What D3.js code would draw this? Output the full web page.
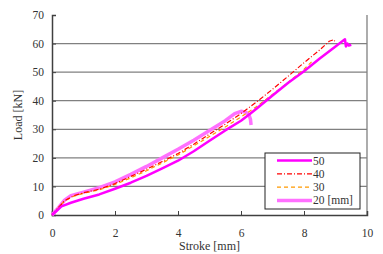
<!DOCTYPE html>
<html>
<head>
<meta charset="utf-8">
<script src="https://cdn.jsdelivr.net/npm/d3@7"></script>
<style>
  body { margin: 0; background: #fff; }
  text { font-family: "Liberation Serif", "Times New Roman", serif; }
</style>
</head>
<body>
<svg id="chart" width="383" height="254"></svg>
<script>
// stroke [mm] / load [kN]
const s50 = [[0,0],[0.15,1.5],[0.3,3],[0.6,4.3],[1,5.7],[1.5,7.2],[2,9.2],[2.5,11.3],[3,13.7],[3.5,16.3],[4,19],[4.5,22.3],[5,26],[5.5,29.6],[6,33],[6.3,35.5],[6.5,37.3],[7,41.8],[7.5,46.3],[8,50.3],[8.5,54.8],[9,59],[9.3,61.5],[9.33,59],[9.38,60],[9.42,59.3],[9.5,59.6]];
const s40 = [[0,0],[0.2,2.5],[0.4,5],[0.7,6.8],[1,7.8],[1.5,9],[2,11],[2.5,13.5],[3,16],[3.5,18.7],[4,21.5],[4.5,24.8],[5,28.3],[5.5,31.8],[6,35.5],[6.5,39.6],[7,44],[7.5,48.6],[8,53.3],[8.5,57.8],[8.8,60.8],[8.95,61.4],[9,60.2]];
const s30 = [[0,0],[0.2,2.5],[0.4,5],[0.7,6.6],[1,7.6],[1.5,8.8],[2,10.7],[2.5,13],[3,15.5],[3.5,18.2],[4,21],[4.5,24.2],[5,27.5],[5.5,30.8],[6,34.3],[6.5,38],[7,42.2],[7.5,46.5],[8,51],[8.25,53.7]];
const s20 = [[0,0],[0.2,2.5],[0.4,5.2],[0.6,6.8],[1,8],[1.5,9.6],[2,11.6],[2.5,14.2],[3,17],[3.5,20],[4,23],[4.5,26.2],[5,29.6],[5.5,33],[5.8,35.5],[6,36.3],[6.15,36],[6.25,35.2],[6.3,33.5],[6.32,31.5]];

const seriesNames = ["50", "40", "30", "20 [mm]"];
const seriesData = [s50, s40, s30, s20];
const seriesColors = ["#ff00ff", "#ff0000", "#ff9900", "#ff70ff"];
const seriesWidths = [2.5, 1.2, 1.2, 3.5];
const seriesDash = [null, "5,2,1,2", "4,3", null];

const xTicks = [0, 2, 4, 6, 8, 10];
const yTicks = [0, 10, 20, 30, 40, 50, 60, 70];

const margin = { left: 52, right: 16, top: 15, bottom: 39 };
const W = 383, H = 254;

const svg = d3.select("#chart");
const x = d3.scaleLinear().domain([0, 10]).range([margin.left, W - margin.right]);
const y = d3.scaleLinear().domain([0, 70]).range([H - margin.bottom, margin.top]);

// horizontal gridlines
svg.append("g")
    .selectAll("line")
    .data(yTicks.filter(d => d > 0 && d < 70))
    .join("line")
    .attr("x1", x(0)).attr("x2", x(10))
    .attr("y1", d => y(d)).attr("y2", d => y(d))
    .attr("stroke", "#808080")
    .attr("stroke-width", 1.3);

// right border
svg.append("line")
    .attr("x1", x(10)).attr("x2", x(10))
    .attr("y1", y(0)).attr("y2", y(70))
    .attr("stroke", "#808080").attr("stroke-width", 1.3);

// axes
const xAxis = svg.append("g")
    .attr("transform", `translate(0,${y(0)})`)
    .call(d3.axisBottom(x).tickValues(xTicks).tickSize(-4).tickPadding(14));
const yAxis = svg.append("g")
    .attr("transform", `translate(${x(0)},0)`)
    .call(d3.axisLeft(y).tickValues(yTicks).tickSize(-4).tickPadding(8));

[xAxis, yAxis].forEach(g => {
    g.select(".domain").attr("stroke", "#404040").attr("stroke-width", 1.5);
    g.selectAll(".tick line").attr("stroke", "#404040");
    g.selectAll(".tick text").attr("fill", "#333").style("font-size", "11.5px")
        .style("font-family", "'Liberation Serif', serif");
});

// curves
const line = d3.line().x(d => x(d[0])).y(d => y(d[1]));
const drawOrder = [3, 2, 1, 0];
drawOrder.forEach(i => {
    svg.append("path")
        .datum(seriesData[i])
        .attr("d", line)
        .attr("fill", "none")
        .attr("stroke", seriesColors[i])
        .attr("stroke-width", seriesWidths[i])
        .attr("stroke-dasharray", seriesDash[i])
        .attr("stroke-linejoin", "round");
});

// axis titles
svg.append("text")
    .attr("x", x(5)).attr("y", 250)
    .attr("text-anchor", "middle")
    .attr("fill", "#333")
    .style("font-size", "12px")
    .text("Stroke [mm]");
svg.append("text")
    .attr("transform", `translate(22,${y(35)}) rotate(-90)`)
    .attr("text-anchor", "middle")
    .attr("fill", "#333")
    .style("font-size", "12px")
    .text("Load [kN]");

// legend
const lg = svg.append("g").attr("transform", "translate(265,153)");
lg.append("rect")
    .attr("width", 95).attr("height", 56)
    .attr("fill", "#fff").attr("stroke", "#222").attr("stroke-width", 1);
seriesNames.forEach((name, i) => {
    const ly = 7.5 + i * 13.3;
    lg.append("line")
        .attr("x1", 12).attr("x2", 47)
        .attr("y1", ly).attr("y2", ly)
        .attr("stroke", seriesColors[i])
        .attr("stroke-width", seriesWidths[i])
        .attr("stroke-dasharray", seriesDash[i]);
    lg.append("text")
        .attr("x", 48).attr("y", ly + 4)
        .attr("fill", "#333")
        .style("font-size", "11.5px")
        .text(name);
});
</script>
</body>
</html>
